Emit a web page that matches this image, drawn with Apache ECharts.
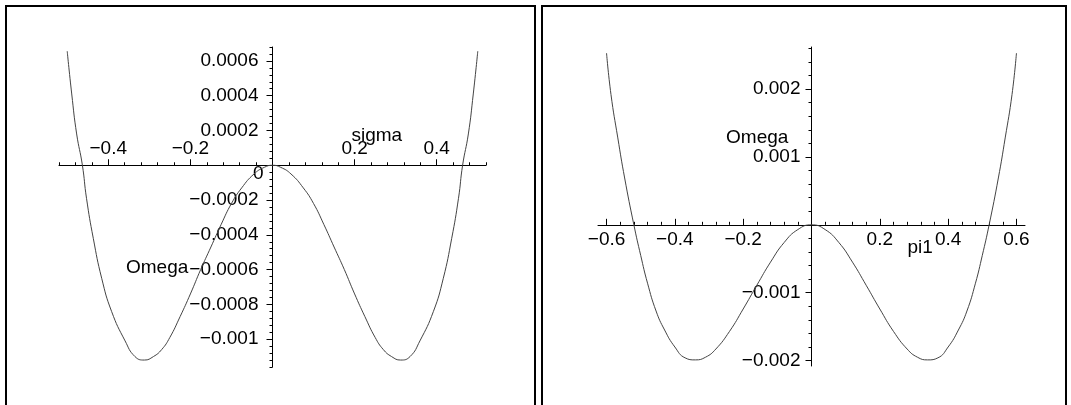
<!DOCTYPE html>
<html>
<head>
<meta charset="utf-8">
<script src="https://cdn.jsdelivr.net/npm/echarts@6/dist/echarts.min.js"></script>
<style>
  html, body { margin: 0; padding: 0; background: #fff; }
  #chart { width: 1071px; height: 405px; }
</style>
</head>
<body>
<div id="chart"></div>
<script>
// Left plot: Omega against sigma
var sigma = [-0.5, -0.489, -0.477, -0.463, -0.453, -0.4365, -0.416, -0.392, -0.359, -0.335, -0.312,
  -0.29, -0.27, -0.25, -0.225, -0.2, -0.175, -0.15, -0.125, -0.1, -0.075, -0.045, -0.02, 0,
  0.02, 0.045, 0.075, 0.1, 0.125, 0.15, 0.175, 0.2, 0.225, 0.25, 0.27, 0.29,
  0.312, 0.335, 0.359, 0.392, 0.416, 0.4365, 0.453, 0.463, 0.477, 0.489, 0.5];
var omegaSigma = [0.000656, 0.00041, 0.00018, 0, -0.00019, -0.00042, -0.00065, -0.00084, -0.00101, -0.0011, -0.00112,
  -0.0011, -0.00106, -0.00099, -0.00087, -0.00074, -0.0006, -0.00047, -0.00034, -0.00022, -0.00013, -0.00005, -0.000012, 0,
  -0.000012, -0.00005, -0.00013, -0.00022, -0.00034, -0.00047, -0.0006, -0.00074, -0.00087, -0.00099, -0.00106, -0.0011,
  -0.00112, -0.0011, -0.00101, -0.00084, -0.00065, -0.00042, -0.00019, 0, 0.00018, 0.00041, 0.000656];

// Right plot: Omega against pi1
var pi1 = [-0.6, -0.587, -0.567, -0.547, -0.52, -0.5, -0.48, -0.455, -0.43, -0.4, -0.37, -0.34,
  -0.31, -0.28, -0.24, -0.2, -0.16, -0.12, -0.08, -0.04, 0,
  0.04, 0.08, 0.12, 0.16, 0.2, 0.24, 0.28, 0.31,
  0.34, 0.37, 0.4, 0.43, 0.455, 0.48, 0.5, 0.52, 0.547, 0.567, 0.587, 0.6];
var omegaPi1 = [0.00253, 0.00192, 0.00128, 0.00069, 0, -0.00045, -0.00086, -0.00127, -0.00155, -0.0018, -0.00196, -0.00199,
  -0.00195, -0.00183, -0.00157, -0.00124, -0.00089, -0.00055, -0.00026, -0.00007, 0,
  -0.00007, -0.00026, -0.00055, -0.00089, -0.00124, -0.00157, -0.00183, -0.00195,
  -0.00199, -0.00196, -0.0018, -0.00155, -0.00127, -0.00086, -0.00045, 0, 0.00069, 0.00128, 0.00192, 0.00253];

// tick labels
var sigmaTicks = [-0.4, -0.2, 0.2, 0.4];
var sigmaOmegaTicks = [-0.001, -0.0008, -0.0006, -0.0004, -0.0002, 0, 0.0002, 0.0004, 0.0006];
var pi1Ticks = [-0.6, -0.4, -0.2, 0.2, 0.4, 0.6];
var pi1OmegaTicks = [-0.002, -0.001, 0.001, 0.002];

var font = "'Liberation Sans', Arial, Helvetica, sans-serif";

function pairs(xs, ys) {
  return xs.map(function (x, i) { return [x, ys[i]]; });
}

function tickText(v) {
  var s = String(parseFloat(v.toFixed(6)));
  if (s === '0') return '{z|0}';
  return s.replace('-', '\u2212');
}

function minorTicks(min, max, step) {
  var out = [];
  for (var k = Math.ceil(min / step - 1e-6); k * step <= max + 1e-9; k++) {
    out.push(parseFloat((k * step).toFixed(8)));
  }
  return out;
}

var labelStyle = {
  color: '#000',
  fontSize: 19,
  fontFamily: font,
  formatter: tickText,
  rich: { z: { color: '#000', fontSize: 19, fontFamily: font, padding: [17, -5, 0, 0] } }
};

function majorAxis(grid, min, max, pos, ticks, margin, inside) {
  return {
    gridIndex: grid, type: 'value', min: min, max: max, position: pos,
    splitLine: { show: false },
    axisLine: { onZero: false, lineStyle: { color: '#000', width: 1 } },
    axisTick: { customValues: ticks, length: 6, inside: !!inside, lineStyle: { color: '#000', width: 1 } },
    axisLabel: Object.assign({ customValues: ticks, margin: margin, hideOverlap: false }, labelStyle)
  };
}

function minorAxis(grid, min, max, pos, ticks, inside) {
  return {
    gridIndex: grid, type: 'value', min: min, max: max, position: pos,
    splitLine: { show: false },
    axisLine: { show: false, onZero: false },
    axisTick: { customValues: ticks, length: 3, inside: !!inside, lineStyle: { color: '#000', width: 1 } },
    axisLabel: { show: false }
  };
}

var grids = [
  { left: 59, top: 47, width: 427, height: 320, outerBoundsMode: 'none', containLabel: false },
  { left: 598, top: 47, width: 427, height: 319, outerBoundsMode: 'none', containLabel: false }
];

var chart = echarts.init(document.getElementById('chart'));

var option = {
  animation: false,
  backgroundColor: '#fff',
  grid: grids,
  xAxis: [
    majorAxis(0, -0.52, 0.52, 'top', sigmaTicks, 7),
    minorAxis(0, -0.52, 0.52, 'top', minorTicks(-0.52, 0.52, 0.04)),
    majorAxis(1, -0.625, 0.625, 'bottom', pi1Ticks, 5, true),
    minorAxis(1, -0.625, 0.625, 'bottom', minorTicks(-0.625, 0.625, 0.04), true)
  ],
  yAxis: [
    majorAxis(0, -0.00116, 0.00068, 'left', sigmaOmegaTicks, 14),
    minorAxis(0, -0.00116, 0.00068, 'left', minorTicks(-0.00116, 0.00068, 0.00004)),
    majorAxis(1, -0.00208, 0.00262, 'left', pi1OmegaTicks, 11),
    minorAxis(1, -0.00208, 0.00262, 'left', minorTicks(-0.00208, 0.00262, 0.0002))
  ],
  series: [
    {
      type: 'line', xAxisIndex: 0, yAxisIndex: 0,
      data: pairs(sigma, omegaSigma),
      smooth: 0.5, showSymbol: false,
      lineStyle: { color: '#444', width: 1 }
    },
    {
      type: 'line', xAxisIndex: 2, yAxisIndex: 2,
      data: pairs(pi1, omegaPi1),
      smooth: 0.5, showSymbol: false,
      lineStyle: { color: '#444', width: 1 }
    }
  ],
  graphic: [
    { id: 'boxL', type: 'rect', silent: true, shape: { x: 6, y: 6, width: 529, height: 420 },
      style: { fill: 'none', stroke: '#000', lineWidth: 2 } },
    { id: 'boxR', type: 'rect', silent: true, shape: { x: 542, y: 6, width: 524, height: 420 },
      style: { fill: 'none', stroke: '#000', lineWidth: 2 } }
  ]
};
chart.setOption(option);

// move each axis pair to the other axis's zero, using the library's own scale
var xOffsets = [], yOffsets = [];
[0, 1].forEach(function (g) {
  var zx = chart.convertToPixel({ xAxisIndex: g * 2 }, 0);
  var zy = chart.convertToPixel({ yAxisIndex: g * 2 }, 0);
  var gr = grids[g];
  var yOff = gr.left - zx;
  var xOff = g === 0 ? gr.top - zy : zy - (gr.top + gr.height);
  xOffsets.push(xOff, xOff);
  yOffsets.push(yOff, yOff);
});

// axis names, placed in data coordinates
var names = [
  { text: 'sigma', finder: { xAxisIndex: 0, yAxisIndex: 0 }, at: [0.254, 0.00017] },
  { text: 'Omega', finder: { xAxisIndex: 0, yAxisIndex: 0 }, at: [-0.281, -0.00059] },
  { text: 'Omega', finder: { xAxisIndex: 2, yAxisIndex: 2 }, at: [-0.159, 0.00128] },
  { text: 'pi1', finder: { xAxisIndex: 2, yAxisIndex: 2 }, at: [0.318, -0.00034] }
];

chart.setOption({
  xAxis: xOffsets.map(function (o) { return { offset: o }; }),
  yAxis: yOffsets.map(function (o) { return { offset: o }; }),
  graphic: names.map(function (n, i) {
    var p = chart.convertToPixel(n.finder, n.at);
    return {
      id: 'name' + i, type: 'text', silent: true, x: p[0], y: p[1],
      style: { text: n.text, fill: '#000', font: '19px ' + font, textAlign: 'center', textVerticalAlign: 'middle' }
    };
  })
});
</script>
</body>
</html>
